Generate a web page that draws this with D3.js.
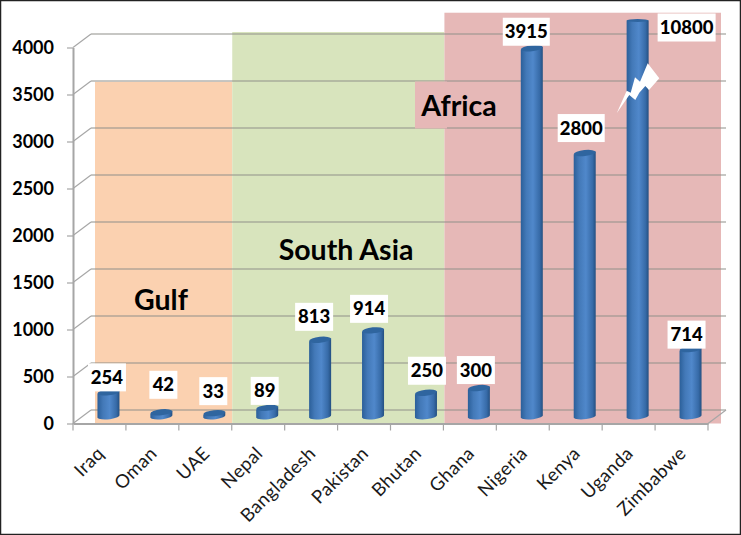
<!DOCTYPE html>
<html>
<head>
<meta charset="utf-8">
<script src="https://d3js.org/d3.v7.min.js"></script>
<style>
html, body { margin: 0; padding: 0; background: #fff; }
svg { display: block; }
text { font-family: Lato, "Open Sans", sans-serif; fill: #000; }
</style>
</head>
<body>
<svg class="chart" width="741" height="535"></svg>
<script>
// data
const countries = ['Iraq', 'Oman', 'UAE', 'Nepal', 'Bangladesh', 'Pakistan', 'Bhutan', 'Ghana', 'Nigeria', 'Kenya', 'Uganda', 'Zimbabwe'];
const cases = [254, 42, 33, 89, 813, 914, 250, 300, 3915, 2800, 10800, 714];
const yTicks = [0, 500, 1000, 1500, 2000, 2500, 3000, 3500, 4000];
// Uganda runs off the scale, its bar is cut at this value and has a break mark
const axisBreak = 4210;

const regionNames = ['Gulf', 'South Asia', 'Africa'];
const regionLast = [2, 6, 11];
const regionTop = [3635, 4165, 4370];

// hand placed labels: offset of the box centre from the top of its bar
const labelDx = [-1.5, 2, -1, -2.5, -6, -4, 1, -3, -5.5, -3.5, 49, -4];
const labelDy = [-15, -27.5, -22, -17, -23, -21.5, -22, -18, -16.5, -25, 7, -14.5];

let width = 741, height = 535;
let margin = {top: 47.5, left: 73, bottom: 111.5, right: 33};
let depth = {x: 18, y: -13.5};

let svg = d3.select('.chart');

let x = d3.scaleBand().domain(countries).range([margin.left, width - margin.right]);
let y = d3.scaleLinear().domain([0, 4000]).range([height - margin.bottom, margin.top]);

let defs = svg.append('defs');
let grad = defs.append('linearGradient').attr('id', 'barFill');
grad.append('stop').attr('offset', '0%').attr('stop-color', '#2b5f99');
grad.append('stop').attr('offset', '25%').attr('stop-color', '#4379b8');
grad.append('stop').attr('offset', '55%').attr('stop-color', '#5088cb');
grad.append('stop').attr('offset', '85%').attr('stop-color', '#376ba8');
grad.append('stop').attr('offset', '100%').attr('stop-color', '#234f80');

// coloured region panels
let regionColors = d3.scaleOrdinal().domain(regionNames).range(['#fbd1b0', '#d8e4bd', '#e6b8b7']);
let panelLeft = [95, x(countries[3]) + 0.5, x(countries[7]) + 1];

regionNames.forEach((name, i) => {
    let right = i == 2 ? 721 : x(countries[regionLast[i]]) + x.step() + (i == 0 ? 0.5 : 1);
    svg.append('rect')
        .attr('x', panelLeft[i])
        .attr('y', y(regionTop[i]))
        .attr('width', right - panelLeft[i])
        .attr('height', y(0) - y(regionTop[i]))
        .style('fill', regionColors(name));
});

// back wall gridlines with the slanted piece back to the axis
let grid = svg.append('g').selectAll('g').data(yTicks).enter().append('g');
grid.append('line')
    .attr('x1', x.range()[0] + depth.x)
    .attr('x2', x.range()[1] + depth.x)
    .attr('y1', (d) => y(d) + depth.y)
    .attr('y2', (d) => y(d) + depth.y)
    .style('stroke', '#8f8f8a')
    .style('stroke-width', 1.2);
grid.append('line')
    .attr('x1', x.range()[0])
    .attr('x2', x.range()[0] + depth.x)
    .attr('y1', (d) => y(d))
    .attr('y2', (d) => y(d) + depth.y)
    .style('stroke', '#a6a6a6')
    .style('stroke-width', 1.2);

// floor
svg.append('line')
    .attr('x1', x.range()[1]).attr('x2', x.range()[1] + depth.x)
    .attr('y1', y(0)).attr('y2', y(0) + depth.y)
    .style('stroke', '#a6a6a6').style('stroke-width', 1.2);

// region title, Africa has a patch of its panel colour behind it
svg.append('rect')
    .attr('x', 415).attr('y', 81.5).attr('width', 32).attr('height', 47)
    .style('fill', regionColors('Africa'));

let regionTextX = [161, 346, 459];
let regionTextY = [310, 260, 116];
svg.append('g').selectAll('text').data(regionNames).enter().append('text')
    .attr('x', (d, i) => regionTextX[i])
    .attr('y', (d, i) => regionTextY[i])
    .attr('text-anchor', 'middle')
    .style('font-size', '28.5px')
    .style('font-weight', 700)
    .text((d) => d);

// cylinders
let barX = (i) => x(countries[i]) + x.bandwidth() / 2 + depth.x / 2;
let barBase = y(0) + depth.y / 2 - 0.5;
let barTop = (v) => barBase - (y(0) - y(Math.min(v, axisBreak)));
let rx = 11, ry = 3;

let bars = svg.append('g').selectAll('g').data(cases).enter().append('g');
bars.append('path')
    .attr('d', (d, i) => {
        let cx = barX(i), t = barTop(d), lift = d > axisBreak ? 0 : 1.5;
        return 'M' + (cx - rx) + ',' + (t + lift)
            + 'L' + (cx - rx) + ',' + (barBase + 1.5)
            + 'A' + rx + ',' + ry + ' -6 0 0 ' + (cx + rx) + ',' + (barBase - 1.5)
            + 'L' + (cx + rx) + ',' + (t - lift) + 'Z';
    })
    .style('fill', 'url(#barFill)');
bars.append('ellipse')
    .attr('cx', (d, i) => barX(i))
    .attr('cy', (d) => barTop(d))
    .attr('rx', rx)
    .attr('ry', (d) => d > axisBreak ? 1.5 : ry)
    .attr('transform', (d, i) => 'rotate(' + (d > axisBreak ? 0 : -6) + ',' + barX(i) + ',' + barTop(d) + ')')
    .style('fill', '#2f659f');

// value labels in white boxes
let labels = svg.append('g').selectAll('g').data(cases).enter().append('g')
    .attr('transform', (d, i) => 'translate(' + (barX(i) + labelDx[i]) + ',' + (barTop(d) + labelDy[i]) + ')');
labels.append('rect')
    .attr('x', (d) => d >= 10000 ? -29 : d >= 1000 ? -23.5 : d >= 100 ? -19 : -14)
    .attr('y', -14)
    .attr('width', (d) => d >= 10000 ? 58 : d >= 1000 ? 47 : d >= 100 ? 38 : 28)
    .attr('height', 28)
    .style('fill', '#fff');
labels.append('text')
    .attr('text-anchor', 'middle')
    .attr('y', 6.5)
    .style('font-size', '18.5px')
    .style('font-weight', 900)
    .text((d) => d);

// break mark on the Uganda bar
let boltShape = [[616.7, 113.3], [626.7, 90.7], [630.7, 92.7], [635, 77.3], [640, 81.7], [647.7, 63.3], [659.3, 78.3], [649, 90], [645.3, 86], [639.3, 92.7], [635.3, 100], [629.3, 95]];
svg.append('path')
    .attr('d', d3.line()(boltShape) + 'Z')
    .style('fill', '#fff');

// axes
let yAxis = d3.axisLeft(y).tickValues(yTicks).tickFormat(d3.format('d')).tickSize(6).tickPadding(13).tickSizeOuter(0);
let yg = svg.append('g')
    .attr('transform', 'translate(' + margin.left + ',0)')
    .call(yAxis);
yg.select('.domain').style('stroke', '#a6a6a6').style('stroke-width', 2);
yg.selectAll('.tick line').style('stroke', '#a6a6a6').style('stroke-width', 1.2);
yg.selectAll('text')
    .style('font-size', '18px')
    .style('font-weight', 700)
    .style('font-family', 'Lato, sans-serif')
    .style('fill', '#000');

let xAxis = d3.axisBottom(x).tickSize(0).tickPadding(12);
let xg = svg.append('g')
    .attr('transform', 'translate(0,' + y(0) + ')')
    .call(xAxis);
xg.select('.domain').style('stroke', '#a6a6a6').style('stroke-width', 2);
xg.selectAll('text')
    .attr('transform', 'rotate(-45)')
    .attr('dx', -18)
    .attr('dy', 14)
    .style('text-anchor', 'end')
    .style('font-size', '18.5px')
    .style('letter-spacing', '0.4px')
    .style('font-family', 'Lato, sans-serif')
    .style('fill', '#1a1a1a');

// ticks sit on the band edges, not the centres
svg.append('g').selectAll('line').data(d3.range(countries.length + 1)).enter().append('line')
    .attr('x1', (d) => x.range()[0] + d * x.step())
    .attr('x2', (d) => x.range()[0] + d * x.step())
    .attr('y1', y(0))
    .attr('y2', y(0) + 7)
    .style('stroke', '#a6a6a6')
    .style('stroke-width', 1.2);

// dark frame round the picture
svg.append('rect')
    .attr('x', 0.5).attr('y', 0.5).attr('width', width - 1).attr('height', height - 1)
    .style('fill', 'none').style('stroke', '#222').style('stroke-width', 1.5);
</script>
</body>
</html>
